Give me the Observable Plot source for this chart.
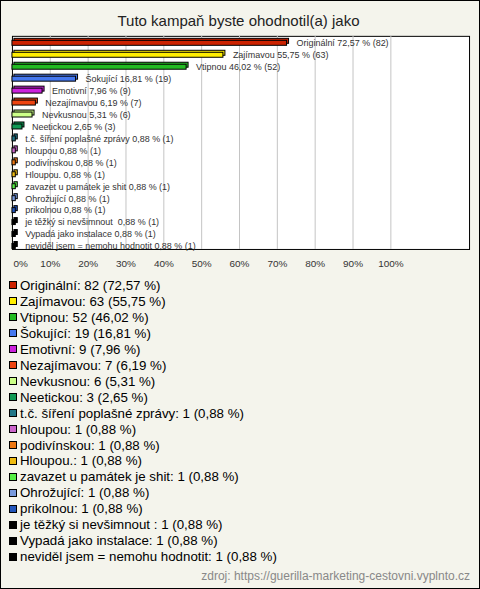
<!DOCTYPE html>
<html>
<head>
<meta charset="utf-8">
<script src="https://cdn.jsdelivr.net/npm/d3@7"></script>
<script src="https://cdn.jsdelivr.net/npm/@observablehq/plot@0.6"></script>
<style>
  html, body { margin: 0; padding: 0; background: #f4f4ec; }
  #wrap { position: relative; width: 480px; height: 589px; box-sizing: border-box; border: 1px solid #000; background: #f4f4ec; overflow: hidden; font-family: "Liberation Sans", Arial, sans-serif; }
  #title { position: absolute; left: 0; width: 475px; top: 12px; text-align: center; font-size: 15px; line-height: 15px; color: #222; }
  #chart { position: absolute; left: -1px; top: -1px; }
  #legend { position: absolute; left: 8px; top: 277px; font-size: 13.3px; line-height: 15.95px; color: #000; }
  .item { white-space: pre; display: flex; align-items: center; }
  .sw { display: inline-block; width: 6px; height: 6px; border: 1px solid #000; margin-right: 3px; margin-top: -1px; }
  #footer { position: absolute; right: 9px; top: 569px; font-size: 12px; line-height: 12px; color: #888; }
</style>
</head>
<body>
<div id="wrap">
  <div id="title">Tuto kampaň byste ohodnotil(a) jako</div>
  <div id="chart"></div>
  <div id="legend"></div>
  <div id="footer">zdroj: https://guerilla-marketing-cestovni.vyplnto.cz</div>
</div>
<script>
const categories = [
  "Originální", "Zajímavou", "Vtipnou", "Šokující", "Emotivní", "Nezajímavou",
  "Nevkusnou", "Neetickou", "t.č. šíření poplašné zprávy", "hloupou", "podivínskou",
  "Hloupou.", "zavazet u památek je shit", "Ohrožující", "prikolnou",
  "je těžký si nevšimnout ", "Vypadá jako instalace", "neviděl jsem = nemohu hodnotit"
];
const counts = [82, 63, 52, 19, 9, 7, 6, 3, 1, 1, 1, 1, 1, 1, 1, 1, 1, 1];
const percents = [72.57, 55.75, 46.02, 16.81, 7.96, 6.19, 5.31, 2.65, 0.88, 0.88, 0.88, 0.88, 0.88, 0.88, 0.88, 0.88, 0.88, 0.88];
const colors = [
  "#cc2200", "#ffee00", "#22bb22", "#4477ee", "#cc22dd", "#ee4411",
  "#ccff88", "#119955", "#227788", "#cc66cc", "#ee7711",
  "#eebb11", "#55ee44", "#7799dd", "#2255bb",
  "#000000", "#000000", "#000000"
];
const tickValues = [0, 10, 20, 30, 40, 50, 60, 70, 80, 90, 100];
const tickLabels = ["0%", "10%", "20%", "30%", "40%", "50%", "60%", "70%", "80%", "90%", "100%"];

const fmt = v => v.toFixed(2).replace(".", ",");
const data = categories.map((c, i) => ({
  cat: c, count: counts[i], pct: percents[i], color: colors[i],
  label: `${c} ${fmt(percents[i])} % (${counts[i]})`
}));
const ticks = tickValues.map((v, i) => ({v, label: tickLabels[i]}));

const chart = Plot.plot({
  width: 481,
  height: 281,
  marginLeft: 12,
  marginRight: 10,
  marginTop: 36,
  marginBottom: 31,
  style: { background: "transparent", fontFamily: "'Liberation Sans', Arial, sans-serif" },
  x: { domain: [0, 100], range: [12, 392], axis: null },
  y: { domain: categories, range: [36.5, 252.5], padding: 0, axis: null },
  color: { type: "identity" },
  marks: [
    Plot.frame({ fill: "white", stroke: "black" }),
    Plot.ruleX(tickValues.slice(1), { stroke: "#c4c4c4", strokeWidth: 1 }),
    Plot.barX(data, { x: "pct", y: "cat", fill: "color", stroke: "#000", strokeWidth: 1, insetTop: 3.5, insetBottom: 3.5, dx: 2, dy: -2 }),
    Plot.barX(data, { x: "pct", y: "cat", fill: "color", stroke: "#000", strokeWidth: 1, insetTop: 3.5, insetBottom: 3.5 }),
    Plot.text(data, { x: "pct", y: "cat", text: "label", textAnchor: "start", dx: 9.5, fontSize: 9, fill: "#333", lineAnchor: "middle" }),
    Plot.text(ticks.slice(0, 1), { x: "v", text: "label", frameAnchor: "bottom", dy: 14, textAnchor: "start", dx: 1, fontSize: 10, fill: "#333", lineAnchor: "middle" }),
    Plot.text(ticks.slice(1), { x: "v", text: "label", frameAnchor: "bottom", dy: 14, textAnchor: "middle", fontSize: 10, fill: "#333", lineAnchor: "middle" })
  ]
});
document.getElementById("chart").appendChild(chart);

const legend = document.getElementById("legend");
data.forEach(d => {
  const row = document.createElement("div");
  row.className = "item";
  const sw = document.createElement("span");
  sw.className = "sw";
  sw.style.background = d.color;
  row.appendChild(sw);
  row.appendChild(document.createTextNode(`${d.cat}: ${d.count} (${fmt(d.pct)} %)`));
  legend.appendChild(row);
});
</script>
</body>
</html>
